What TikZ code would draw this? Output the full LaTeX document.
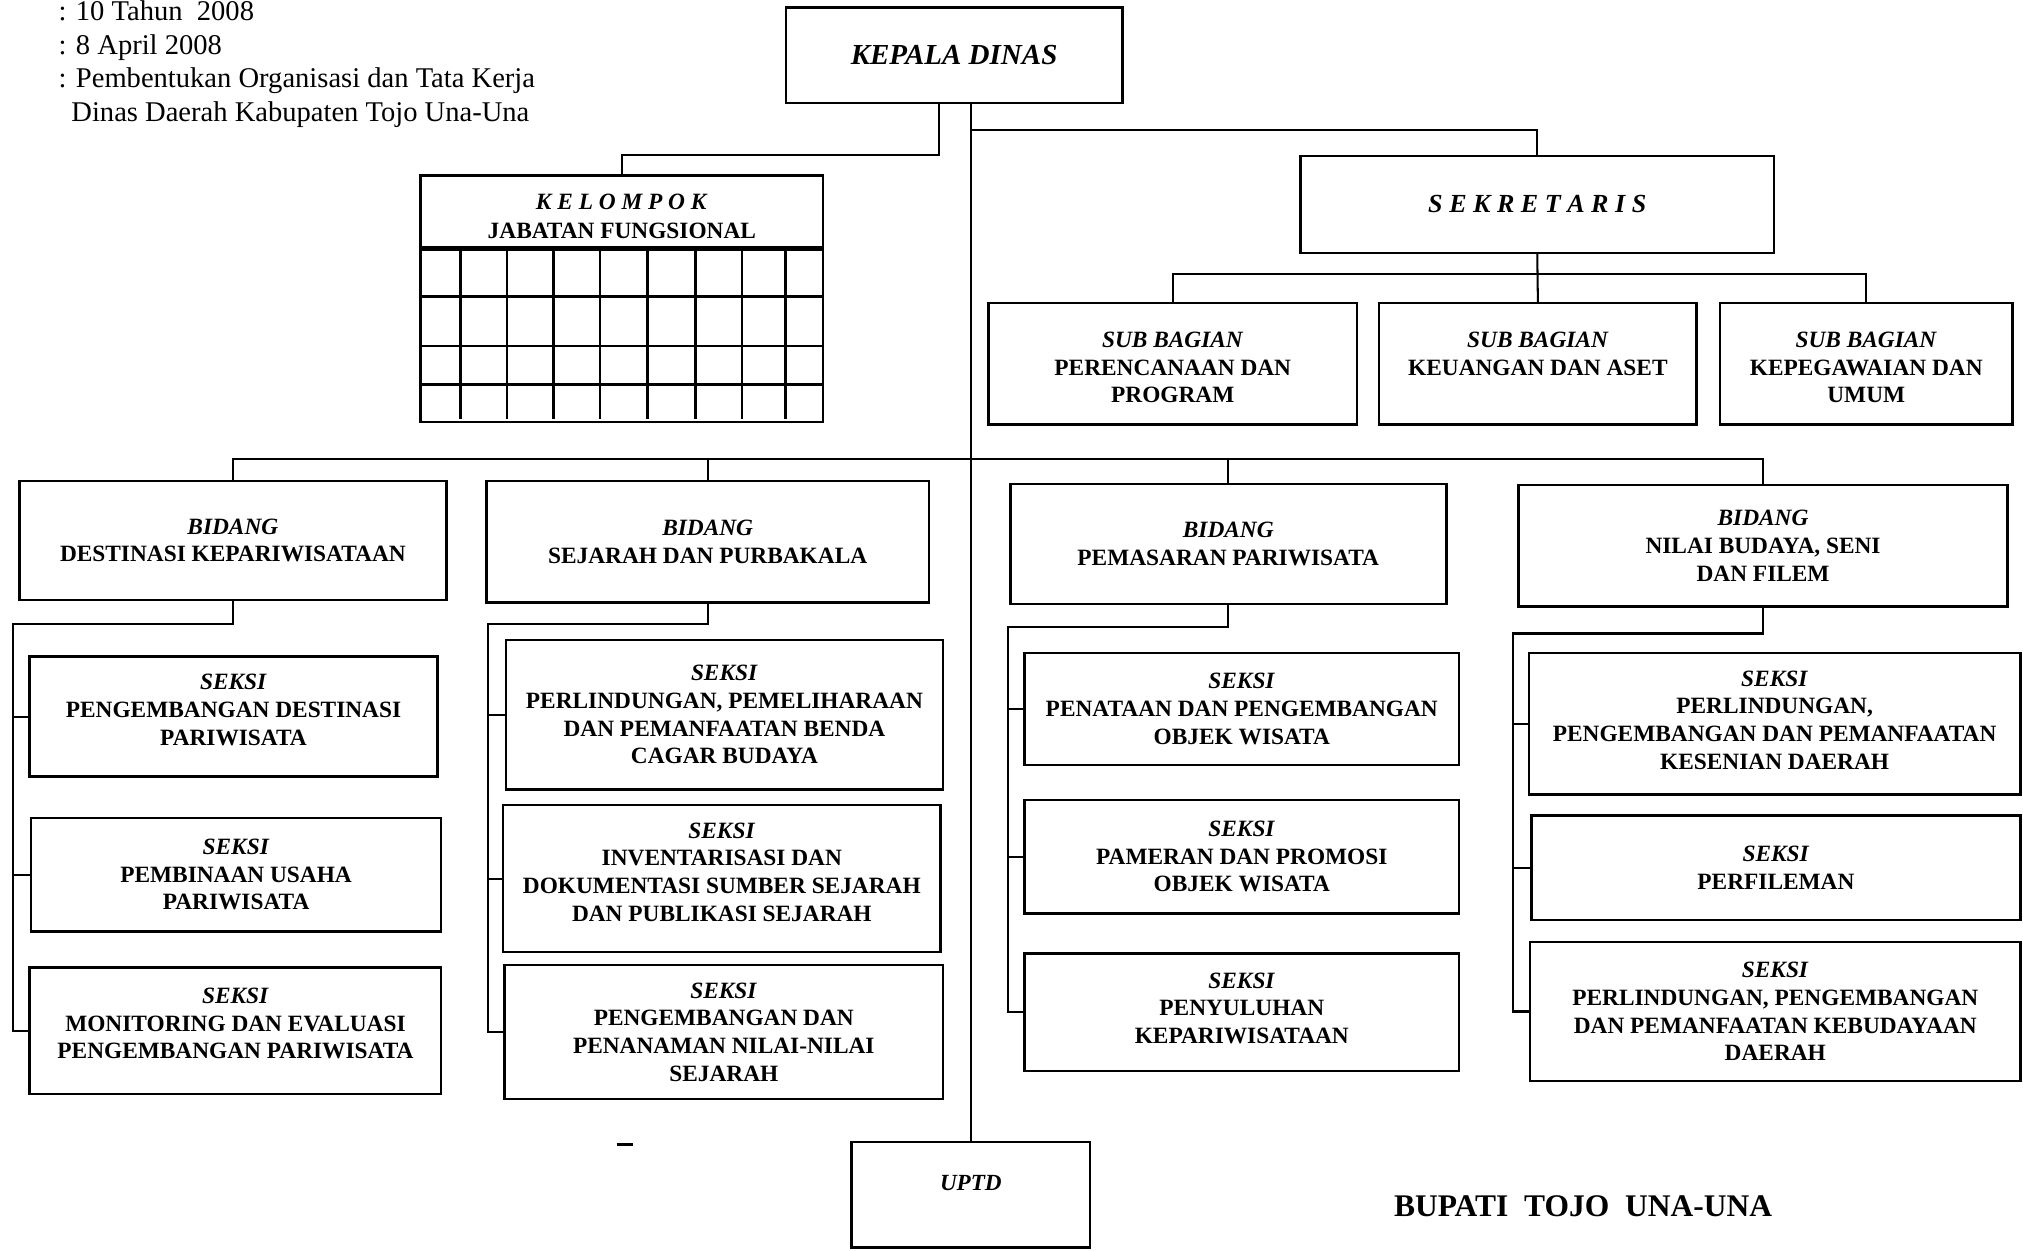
\documentclass[tikz,border=0pt]{standalone}
\usepackage{fontspec}
\setmainfont{Liberation Serif}
\usetikzlibrary{positioning}

\tikzset{
  box/.style={draw, line width=1.1pt, inner sep=0pt, align=center,
    font=\fontsize{10.3}{12.2}\selectfont\bfseries},
  link/.style={line width=0.9pt},
  hdr/.style={anchor=base west, inner sep=0pt, font=\fontsize{12.6}{15}\selectfont},
}

\begin{document}
\begin{tikzpicture}[x=0.02cm,y=-0.02cm]
\useasboundingbox (0,0) rectangle (1568,969);

% keterangan
\node[hdr] (hdr1) at (45,16) {: 10 Tahun\ \ 2008};
\node[hdr] (hdr2) at (45,42) {: 8 April 2008};
\node[hdr] (hdr3) at (45,68) {: Pembentukan Organisasi dan Tata Kerja};
\node[hdr] (hdr4) at (55,94) {Dinas Daerah Kabupaten Tojo Una-Una};

% pimpinan
\node[box, minimum width=5.22cm, minimum height=1.48cm, font=\fontsize{12.8}{15}\selectfont\bfseries\itshape] (kepala) at (739.5,43) {KEPALA DINAS};

\node[box, minimum width=6.24cm, minimum height=1.12cm, font=\fontsize{10.3}{12.5}\selectfont\bfseries] (kelompok) at (482,164) {\rule{0pt}{11pt}\textit{K E L O M P O K}\\JABATAN FUNGSIONAL};
\node[box, minimum width=6.24cm, minimum height=2.66cm, below=0pt of kelompok] (kelgrid) {};
\foreach \gx in {357,393,429,465,502,539,575,609}
  \draw[line width=1.1pt] (\gx,192) -- (\gx,325);
\foreach \gy in {230,268,298}
  \draw[line width=1.1pt] (326,\gy) -- (638,\gy);

\node[box, minimum width=7.34cm, minimum height=1.5cm, font=\fontsize{11.5}{14}\selectfont\bfseries\itshape] (sekretaris) at (1191.5,158.5) {S E K R E T A R I S};

% sub bagian
\node[box, minimum width=5.72cm, minimum height=1.88cm] (sub1) at (909,282) {\rule{0pt}{10.2pt}\textit{SUB BAGIAN}\\PERENCANAAN DAN\\PROGRAM};
\node[box, minimum width=4.92cm, minimum height=1.88cm] (sub2) at (1192,282) {\rule{0pt}{10.2pt}\textit{SUB BAGIAN}\\KEUANGAN DAN ASET\\\mbox{}};
\node[box, minimum width=4.54cm, minimum height=1.88cm] (sub3) at (1446.5,282) {\rule{0pt}{10.2pt}\textit{SUB BAGIAN}\\KEPEGAWAIAN DAN\\UMUM};

% bidang
\node[box, minimum width=6.62cm, minimum height=1.84cm] (b1) at (180.5,419) {\textit{BIDANG}\\DESTINASI KEPARIWISATAAN};
\node[box, minimum width=6.86cm, minimum height=1.88cm] (b2) at (548.5,420) {\textit{BIDANG}\\SEJARAH DAN PURBAKALA};
\node[box, minimum width=6.76cm, minimum height=1.86cm] (b3) at (952,421.5) {\textit{BIDANG}\\PEMASARAN PARIWISATA};
\node[box, minimum width=7.58cm, minimum height=1.88cm] (b4) at (1366.5,423) {\textit{BIDANG}\\NILAI BUDAYA, SENI\\DAN FILEM};

% seksi
\node[box, minimum width=6.32cm, minimum height=1.86cm] (b1-a) at (181,555.5) {\textit{SEKSI}\\PENGEMBANGAN DESTINASI\\PARIWISATA\rule[-6pt]{0pt}{6pt}};
\node[box, minimum width=6.36cm, minimum height=1.76cm] (b1-b) at (183,678) {\textit{SEKSI}\\PEMBINAAN USAHA\\PARIWISATA};
\node[box, minimum width=6.38cm, minimum height=1.96cm] (b1-c) at (182.5,799) {\textit{SEKSI}\\MONITORING DAN EVALUASI\\PENGEMBANGAN PARIWISATA\rule[-6.5pt]{0pt}{6.5pt}};

\node[box, minimum width=6.78cm, minimum height=2.32cm] (b2-a) at (561.5,554) {\textit{SEKSI}\\PERLINDUNGAN, PEMELIHARAAN\\DAN PEMANFAATAN BENDA\\CAGAR BUDAYA};
\node[box, minimum width=6.78cm, minimum height=2.28cm] (b2-b) at (559.5,681) {\textit{SEKSI}\\INVENTARISASI DAN\\DOKUMENTASI SUMBER SEJARAH\\DAN PUBLIKASI SEJARAH\rule[-6pt]{0pt}{6pt}};
\node[box, minimum width=6.8cm, minimum height=2.08cm] (b2-c) at (561,800) {\textit{SEKSI}\\PENGEMBANGAN DAN\\PENANAMAN NILAI-NILAI\\SEJARAH};

\node[box, minimum width=6.74cm, minimum height=1.74cm] (b3-a) at (962.5,549.5) {\textit{SEKSI}\\PENATAAN DAN PENGEMBANGAN\\OBJEK WISATA};
\node[box, minimum width=6.74cm, minimum height=1.76cm] (b3-b) at (962.5,664) {\textit{SEKSI}\\PAMERAN DAN PROMOSI\\OBJEK WISATA};
\node[box, minimum width=6.74cm, minimum height=1.82cm] (b3-c) at (962.5,784.5) {\textit{SEKSI}\\PENYULUHAN\\KEPARIWISATAAN\rule[-3.5pt]{0pt}{3.5pt}};

\node[box, minimum width=7.62cm, minimum height=2.2cm] (b4-a) at (1375.5,561) {\textit{SEKSI}\\PERLINDUNGAN,\\PENGEMBANGAN DAN PEMANFAATAN\\KESENIAN DAERAH\rule[-3.5pt]{0pt}{3.5pt}};
\node[box, minimum width=7.58cm, minimum height=1.62cm] (b4-b) at (1376.5,672.5) {\textit{SEKSI}\\PERFILEMAN};
\node[box, minimum width=7.6cm, minimum height=2.16cm] (b4-c) at (1376,784) {\textit{SEKSI}\\PERLINDUNGAN, PENGEMBANGAN\\DAN PEMANFAATAN KEBUDAYAAN\\DAERAH};

% uptd
\node[box, minimum width=3.7cm, minimum height=1.64cm, font=\fontsize{10.2}{12}\selectfont\bfseries\itshape] (uptd) at (752.5,926) {\raisebox{5pt}[\height][\depth]{UPTD}};

\node[font=\fontsize{13.9}{16}\selectfont\bfseries] (bupati) at (1227,935) {BUPATI\ \ TOJO\ \ UNA-UNA};

% garis
\draw[link] ([xshift=-0.23cm]kepala.south) -- ++(0,39) -| (kelompok.north);
\draw[link] (kepala.south -| uptd.north) -- (uptd.north);
\coordinate (sekjoint) at (752.5,101);
\draw[link] (sekjoint) -| (sekretaris.north);
\draw[link] (sekretaris.south) -- (sub2.north);
\draw[link] (sub1.north) -- ++(0,-22) -| (sub3.north);
\coordinate (bidbar) at (752.5,356);
\draw[link] (b1.north) |- (bidbar -| b4.north) -- (b4.north);
\draw[link] (b2.north) -- (b2.north |- bidbar);
\draw[link] (b3.north) -- (b3.north |- bidbar);

\foreach \b/\lx/\ly in {b1/10/484, b2/378/484, b3/781/486, b4/1173/491}{
  \coordinate (\b-top) at (\lx,\ly);
  \draw[link] (\b.south) |- (\b-top) |- (\b-c.west);
  \draw[link] (\b-top) |- (\b-a.west);
  \draw[link] (\b-top) |- (\b-b.west);
}

\draw[line width=1pt] (478,887) -- (491,887);
\end{tikzpicture}
\end{document}
